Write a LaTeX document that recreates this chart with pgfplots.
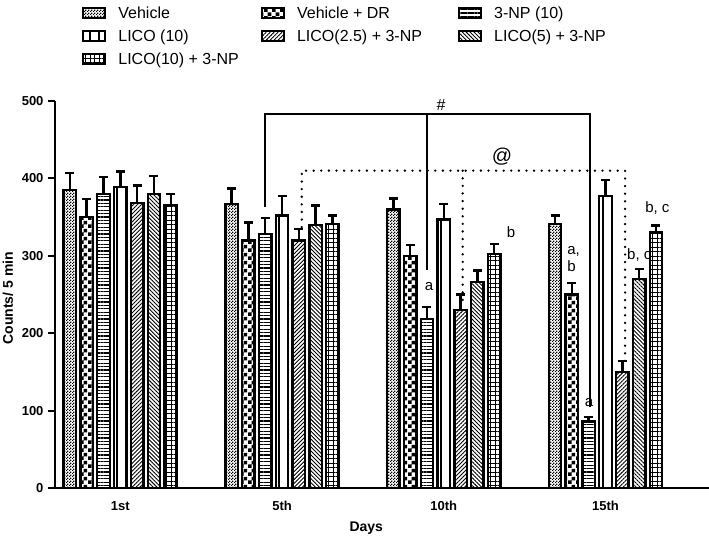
\documentclass[border=0pt]{standalone}
\usepackage{fontspec}
\setmainfont{Liberation Sans}
\usepackage{pgfplots}
\pgfplotsset{compat=1.18}
\usetikzlibrary{patterns,patterns.meta}

\pgfdeclarepatternformonly{bigchecker}{\pgfpointorigin}{\pgfqpoint{8pt}{8pt}}{\pgfqpoint{8pt}{8pt}}{%
  \pgfpathrectangle{\pgfpointorigin}{\pgfqpoint{4pt}{4pt}}%
  \pgfpathrectangle{\pgfqpoint{4pt}{4pt}}{\pgfqpoint{4pt}{4pt}}%
  \pgfusepath{fill}}
\pgfdeclarepatternformonly{finechecker}{\pgfpointorigin}{\pgfqpoint{3pt}{3pt}}{\pgfqpoint{3pt}{3pt}}{%
  \pgfpathrectangle{\pgfpointorigin}{\pgfqpoint{1.5pt}{1.5pt}}%
  \pgfpathrectangle{\pgfqpoint{1.5pt}{1.5pt}}{\pgfqpoint{1.5pt}{1.5pt}}%
  \pgfusepath{fill}}

\pgfplotsset{
  mybar/.style={draw=black, line width=2.4pt,
    error bars/y dir=plus, error bars/y explicit,
    error bars/error bar style={line width=2.4pt, black},
    error bars/error mark options={rotate=90, mark size=4.5pt, line width=2.4pt, black}},
}

\begin{document}
\begin{tikzpicture}
\path[use as bounding box] (0,0) rectangle (709pt,540pt);
\begin{axis}[
  at={(55pt,52pt)}, anchor=south west,
  scale only axis, width=654pt, height=387pt,
  xmin=-0.404, xmax=3.64, ymin=0, ymax=500,
  enlargelimits=false,
  axis lines=left, axis line style={-, line width=2.5pt},
  ybar, bar width=0.077,
  every axis plot post/.append style={
    legend image code/.code={\draw[#1, line width=2.2pt] (0pt,-5pt) rectangle (22pt,5pt);}},
  xtick={0,1,2,3}, xticklabels={1st,5th,10th,15th},
  x tick style={draw=none},
  ytick={0,100,...,500},
  y tick style={line width=2pt, black},
  tick align=outside, major tick length=7pt,
  tick label style={font=\bfseries\fontsize{13}{15}\selectfont},
  xticklabel style={yshift=-3pt},
  yticklabel style={xshift=-1pt},
  /pgf/number format/assume math mode=true,
  xlabel={Days}, ylabel={Counts/ 5 min},
  label style={font=\bfseries\fontsize{14}{16}\selectfont},
  xlabel style={at={(axis description cs:0.476,-0.103)}, anchor=center},
  ylabel style={at={(axis description cs:-0.072,0.49)}, anchor=center},
  clip=false,
  legend columns=3,
  legend cell align=left,
  legend style={at={(rel axis cs:0.0367,1.25)}, anchor=north west, draw=none,
    font=\fontsize{16}{18}\selectfont,
    nodes={inner sep=0pt},
    row sep=10pt,
    /tikz/every odd column/.style={column sep=12pt},
    /tikz/column 2/.style={column sep=22pt},
    /tikz/column 4/.style={column sep=36pt}},
]
% Vehicle
\addplot+[mybar, bar shift=-0.312, pattern=finechecker] coordinates {
  (0,385) +- (0,22) (1,367) +- (0,20) (2,360) +- (0,14) (3,341) +- (0,11)};
% Vehicle + DR
\addplot+[mybar, bar shift=-0.208, pattern=bigchecker] coordinates {
  (0,350) +- (0,23) (1,320) +- (0,23) (2,300) +- (0,14) (3,250) +- (0,15)};
% 3-NP (10)
\addplot+[mybar, bar shift=-0.104, pattern={Lines[angle=0, distance=3.4pt, line width=1.2pt]}] coordinates {
  (0,380) +- (0,22) (1,328) +- (0,21) (2,218) +- (0,16) (3,86) +- (0,6)};
% LICO (10)
\addplot+[mybar, bar shift=0, pattern={Lines[angle=90, distance=9pt, line width=1.3pt]}] coordinates {
  (0,389) +- (0,20) (1,352) +- (0,25) (2,347) +- (0,20) (3,377) +- (0,21)};
% LICO(2.5) + 3-NP
\addplot+[mybar, bar shift=0.104, pattern={Lines[angle=45, distance=2.8pt, line width=0.9pt]}] coordinates {
  (0,368) +- (0,23) (1,320) +- (0,15) (2,230) +- (0,20) (3,150) +- (0,14)};
% LICO(5) + 3-NP
\addplot+[mybar, bar shift=0.208, pattern={Lines[angle=-45, distance=2.8pt, line width=0.9pt]}] coordinates {
  (0,380) +- (0,23) (1,340) +- (0,25) (2,266) +- (0,15) (3,270) +- (0,13)};
% LICO(10) + 3-NP
\addplot+[mybar, bar shift=0.312, pattern={Hatch[angle=0, distance=4.5pt, line width=1pt]}] coordinates {
  (0,366) +- (0,14) (1,341) +- (0,11) (2,302) +- (0,13) (3,330) +- (0,9)};
\legend{Vehicle, Vehicle + DR, 3-NP (10), LICO (10), LICO(2.5) + 3-NP, LICO(5) + 3-NP, LICO(10) + 3-NP}

% brackets
\draw[line width=1.6pt] (axis cs:0.895,363) -- (axis cs:0.895,483) -- (axis cs:2.905,483) -- (axis cs:2.905,105);
\draw[line width=1.6pt] (axis cs:1.895,483) -- (axis cs:1.895,282);
\draw[line width=2.6pt, line cap=round, dash pattern=on 0pt off 7.6pt] (axis cs:1.122,337) -- (axis cs:1.122,410) -- (axis cs:3.121,410) -- (axis cs:3.121,155);
\draw[line width=2.6pt, line cap=round, dash pattern=on 0pt off 7.6pt] (axis cs:2.117,410) -- (axis cs:2.117,234);
\node[font=\fontsize{16}{18}\selectfont] at (axis cs:1.983,495) {\#};
\node[font=\fontsize{20}{22}\selectfont] at (axis cs:2.36,428) {@};
\node[font=\fontsize{15}{17}\selectfont] at (axis cs:1.909,260) {a};
\node[font=\fontsize{15}{17}\selectfont] at (axis cs:2.416,331) {b};
\node[font=\fontsize{15}{17}\selectfont, anchor=west, inner sep=0pt] at (axis cs:2.763,306) {a,};
\node[font=\fontsize{15}{17}\selectfont, anchor=west, inner sep=0pt] at (axis cs:2.763,286) {b};
\node[font=\fontsize{15}{17}\selectfont] at (axis cs:2.898,110) {a};
\node[font=\fontsize{15}{17}\selectfont, anchor=west, inner sep=0pt] at (axis cs:3.133,301) {b, c};
\node[font=\fontsize{15}{17}\selectfont, anchor=west, inner sep=0pt] at (axis cs:3.245,362) {b, c};
\end{axis}
\end{tikzpicture}
\end{document}
